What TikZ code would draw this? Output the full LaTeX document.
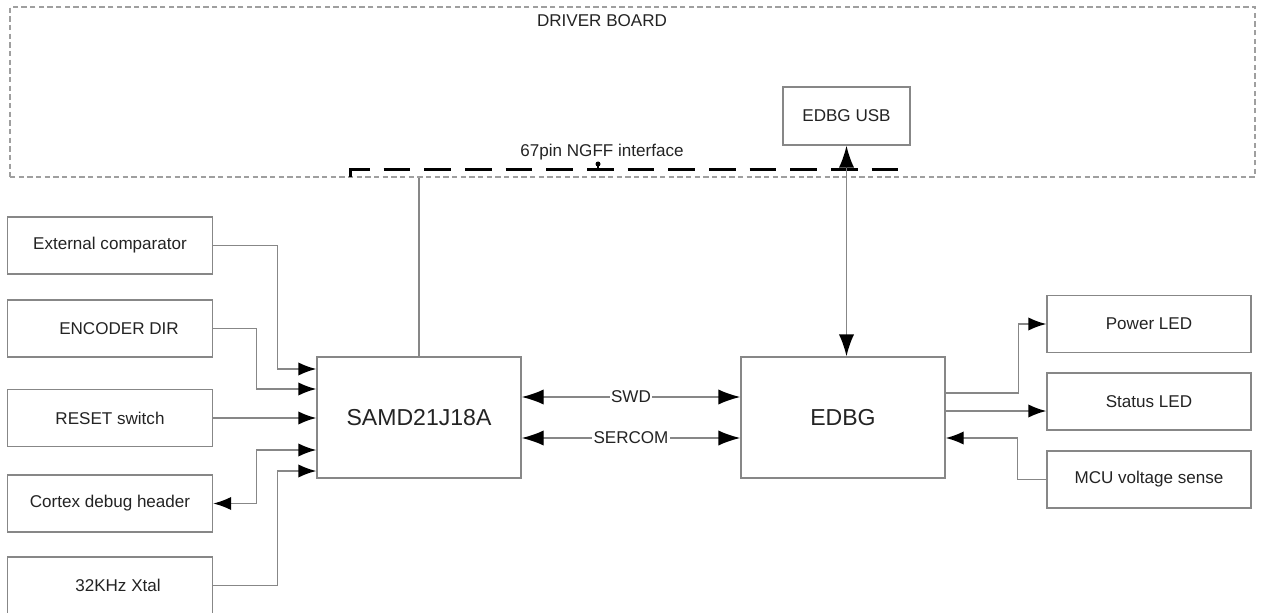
\documentclass[tikz,border=0pt]{standalone}
\usepackage{fontspec}
\setmainfont{Liberation Sans}
\usetikzlibrary{arrows.meta,positioning,calc}
\newdimen\pxu
\pxu=0.75pt
\definecolor{linegray}{RGB}{135,135,135}
\definecolor{textgray}{RGB}{35,35,35}
\newcommand\smallfont{\fontsize{12.8}{15}\selectfont}
\tikzset{
  blk/.style={draw=linegray, line width=1.1pt, minimum width=204\pxu, minimum height=57\pxu,
    inner sep=0pt, text=textgray, font=\smallfont},
  chip/.style={blk, minimum height=121\pxu, font=\fontsize{17.3}{20}\selectfont},
  board/.style={draw=linegray!80, line width=0.8pt, dash pattern=on 4pt off 2.5pt,
    minimum width=1245\pxu, minimum height=170\pxu, inner sep=0pt},
  lbl/.style={text=textgray, font=\smallfont, inner sep=1pt},
  wire/.style={draw=linegray, line width=1.1pt},
  conn/.style={wire, -{Latex[length=13.5pt,width=10pt,color=black]}},
  dconn/.style={wire, {Latex[length=13.5pt,width=10pt,color=black]}-{Latex[length=13.5pt,width=10pt,color=black]}},
  bigconn/.style={wire, {Latex[length=16.5pt,width=11.5pt,color=black]}-{Latex[length=16.5pt,width=11.5pt,color=black]}},
  iface/.style={line width=2.25pt, dash pattern=on 20pt off 10.5pt}
}

\begin{document}
\begin{tikzpicture}[x=0.75pt, y=-0.75pt, on grid]
  \useasboundingbox (0,0) rectangle (1261,613);

  % driver board and interface
  \node[board] (board) at (632.5,92) {};
  \node[lbl] (title) at (602,21) {DRIVER BOARD};
  \draw[iface] (350,177) -- (350,170) -- (900,170) -- (900,177);
  \node[lbl] (ngff) at (602,152) {67pin NGFF interface};
  \fill (598,164) circle (2.5\pxu);
  \draw[line width=1pt] (598,164) -- (598,170);
  \node[blk, minimum width=127\pxu, minimum height=58\pxu] (usb) at (846.5,116) {EDBG USB};

  % main chips
  \node[chip] (samd) at (419,417.5) {SAMD21J18A};
  \node[chip] (edbg) at (843,417.5) {EDBG};

  % left column
  \node[blk, minimum width=205\pxu] (ext) at (110,245.5) {External comparator};
  \node[blk, minimum width=205\pxu, below=83\pxu of ext] (enc) {\hspace*{18\pxu}ENCODER DIR};
  \node[blk, minimum width=205\pxu, below=89.5\pxu of enc] (rst) {RESET switch};
  \node[blk, minimum width=205\pxu, below=85.5\pxu of rst] (dbg) {Cortex debug header};
  \node[blk, minimum width=205\pxu, below=82\pxu of dbg] (xtal) {\hspace*{16\pxu}32KHz Xtal};

  % right column
  \node[blk] (pwr) at (1149,324) {Power LED};
  \node[blk, below=77.5\pxu of pwr] (sts) {Status LED};
  \node[blk, below=78\pxu of sts] (mcu) {MCU voltage sense};

  % pins
  \coordinate (s1) at ($(samd.west)+(0,-48.5)$);
  \coordinate (s2) at ($(samd.west)+(0,-28.5)$);
  \coordinate (s3) at ($(samd.west)+(0,0.5)$);
  \coordinate (s4) at ($(samd.west)+(0,32.5)$);
  \coordinate (s5) at ($(samd.west)+(0,53.5)$);
  \coordinate (e1) at ($(edbg.east)+(0,-24.5)$);
  \coordinate (e2) at ($(edbg.east)+(0,-6.5)$);
  \coordinate (e3) at ($(edbg.east)+(0,20.5)$);

  \draw[conn] (ext.east) -| ($(s1)+(-39,0)$) -- (s1);
  \draw[conn] (enc.east) -| ($(s2)+(-60,0)$) -- (s2);
  \draw[conn] (rst.east) -- (s3);
  \draw[dconn] (s4) -- ($(s4)+(-60,0)$) |- (dbg.east);
  \draw[conn] (xtal.east) -| ($(s5)+(-39,0)$) -- (s5);

  \draw[conn] (e1) -- ++(73,0) |- (pwr.west);
  \draw[conn] (e2) -- (e2 -| sts.west);
  \draw[conn] (mcu.west) -- ++(-29,0) |- (e3);

  \draw[bigconn] ($(samd.east)+(0,-20.5)$) -- node[lbl, fill=white]{SWD} ($(edbg.west)+(0,-20.5)$);
  \draw[bigconn] ($(samd.east)+(0,20.5)$) -- node[lbl, fill=white]{SERCOM} ($(edbg.west)+(0,20.5)$);
  \draw[bigconn] (usb.south) -- (usb.south |- edbg.north);
  \draw[wire] (samd.north) -- (samd.north |- board.south);
\end{tikzpicture}
\end{document}
